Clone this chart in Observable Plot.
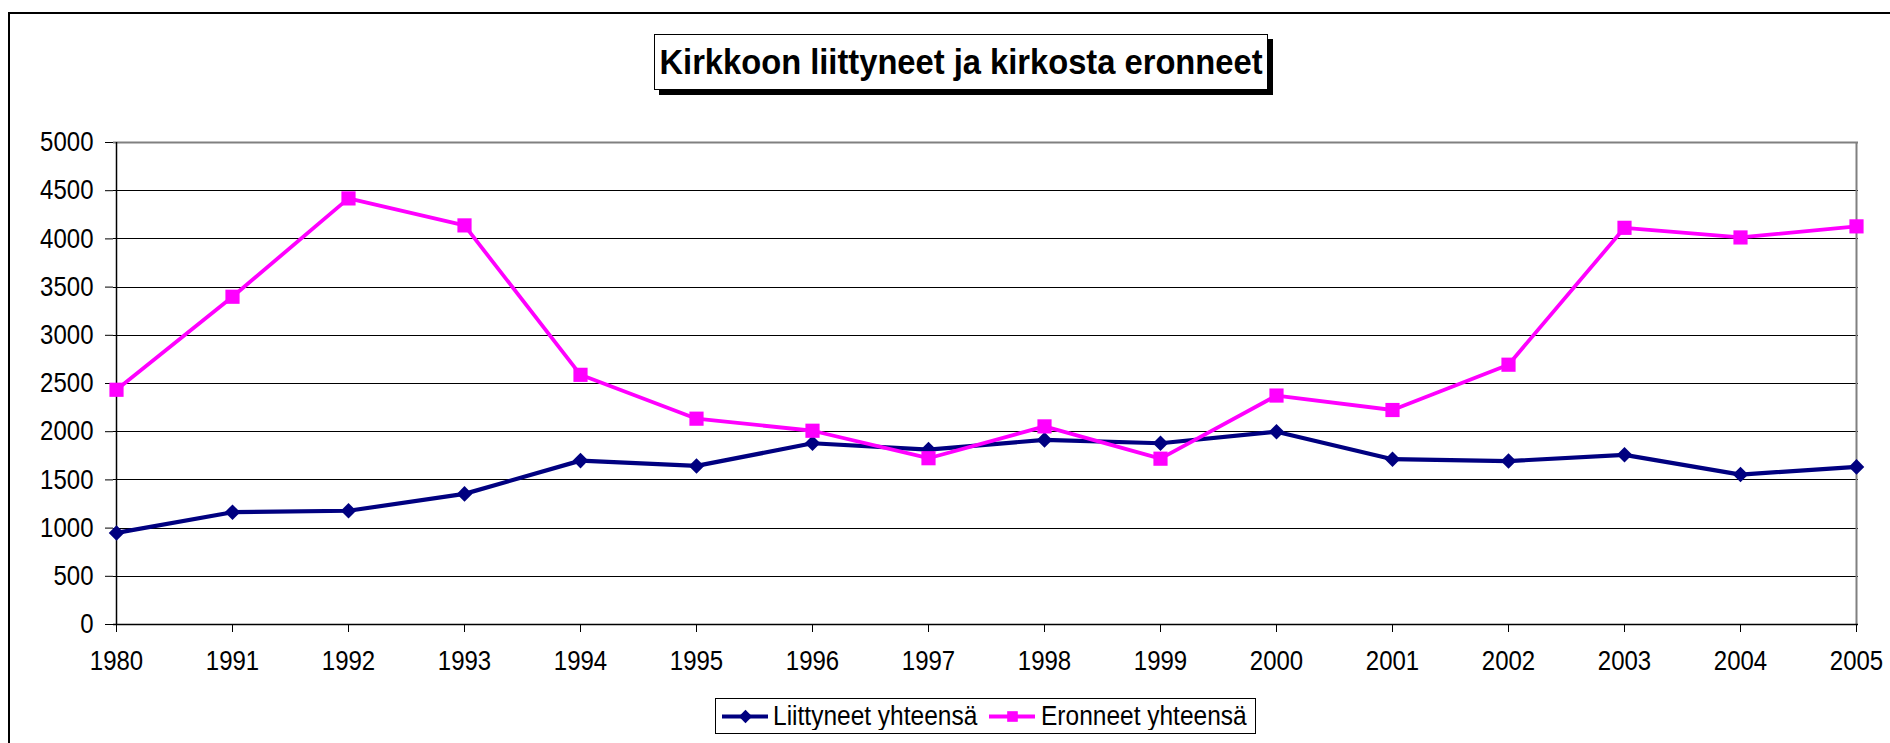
<!DOCTYPE html>
<html>
<head>
<meta charset="utf-8">
<script src="https://cdn.jsdelivr.net/npm/d3@7"></script>
<script src="https://cdn.jsdelivr.net/npm/@observablehq/plot@0.6"></script>
<style>
html, body { margin: 0; padding: 0; width: 1890px; height: 743px; overflow: hidden; background: #fff; font-family: "Liberation Sans", Arial, sans-serif; }
#frame { position: absolute; left: 8px; top: 12px; width: 2000px; height: 1000px; border-left: 2px solid #000; border-top: 2px solid #000; box-sizing: border-box; }
#title { position: absolute; left: 654px; top: 34px; width: 614px; height: 56px; box-sizing: border-box; border: 1px solid #000; box-shadow: 5px 5px 0 #000; background: #fff; font-weight: bold; font-size: 32.7px; display: flex; align-items: center; justify-content: center; color: #000; }
#title span { display: inline-block; transform: scaleY(1.08); }
#chart { position: absolute; left: 0; top: 100px; }
#legend { position: absolute; left: 715px; top: 698px; width: 541px; height: 36px; box-sizing: border-box; border: 1px solid #000; background: #fff; font-size: 24.5px; color: #000; white-space: nowrap; }
#legend .sw { position: absolute; top: 7px; }
#legend .lbl { position: absolute; top: 2px; line-height: 30px; display: inline-block; transform: scaleY(1.1); transform-origin: 50% 60%; }
</style>
</head>
<body>
<div id="frame"></div>
<div id="title"><span></span></div>
<div id="chart"></div>
<div id="legend"></div>
<script>
const titleText = "Kirkkoon liittyneet ja kirkosta eronneet";
const years = ["1980","1991","1992","1993","1994","1995","1996","1997","1998","1999","2000","2001","2002","2003","2004","2005"];
const liittyneet = [950,1165,1180,1355,1700,1645,1880,1815,1915,1880,2000,1715,1695,1760,1555,1635];
const eronneet = [2435,3400,4420,4140,2590,2135,2010,1725,2055,1720,2375,2225,2695,4115,4015,4130];
const yTicks = [0,500,1000,1500,2000,2500,3000,3500,4000,4500,5000];
const seriesNames = ["Liittyneet yhteensä","Eronneet yhteensä"];
const seriesColors = ["#000080","#FF00FF"];
const seriesSymbols = ["diamond2","square"];

document.querySelector("#title span").textContent = titleText;

const rowsL = years.map((y, i) => ({year: y, value: liittyneet[i]}));
const rowsE = years.map((y, i) => ({year: y, value: eronneet[i]}));

const chart = Plot.plot({
  width: 1890,
  height: 580,
  marginLeft: 113,
  marginRight: 32,
  marginTop: 42,
  marginBottom: 56,
  style: {fontFamily: "'Liberation Sans', Arial, sans-serif", fontSize: "24px", color: "#000", background: "transparent", overflow: "visible"},
  x: {type: "point", domain: years, padding: 0, label: null},
  y: {domain: [0, 5000], label: null},
  marks: [
    Plot.ruleY(yTicks.filter(v => v > 0 && v < 5000), {stroke: "#000", strokeWidth: 1, shapeRendering: "crispEdges"}),
    Plot.ruleY([5000], {stroke: "#808080", strokeWidth: 2}),
    Plot.ruleX([years[years.length - 1]], {stroke: "#808080", strokeWidth: 2}),
    Plot.ruleX([years[0]], {stroke: "#000", strokeWidth: 1.5}),
    Plot.ruleY([0], {stroke: "#000", strokeWidth: 1.5}),
    Plot.axisY({ticks: yTicks, tickSize: 8, tickPadding: 12, fontSize: 24, label: null, tickFormat: d => String(d)}),
    Plot.axisX({tickSize: 8, tickPadding: 18, fontSize: 24, label: null}),
    Plot.line(rowsL, {x: "year", y: "value", stroke: seriesColors[0], strokeWidth: 4.2}),
    Plot.dot(rowsL, {x: "year", y: "value", symbol: seriesSymbols[0], r: 7, fill: seriesColors[0], stroke: "none"}),
    Plot.line(rowsE, {x: "year", y: "value", stroke: seriesColors[1], strokeWidth: 3.8}),
    Plot.dot(rowsE, {x: "year", y: "value", symbol: seriesSymbols[1], r: 8, fill: seriesColors[1], stroke: "none"})
  ]
});
// stretch axis labels vertically a little, like the reference rendering
chart.querySelectorAll('g[aria-label$="tick label"] text').forEach(t => {
  const tr = t.getAttribute("transform");
  if (tr) {
    t.setAttribute("transform", tr + " scale(1,1.12)");
  } else {
    const x = t.getAttribute("x") || 0, y = t.getAttribute("y") || 0;
    t.removeAttribute("x"); t.removeAttribute("y");
    t.setAttribute("transform", `translate(${x},${y}) scale(1,1.12)`);
  }
});
document.getElementById("chart").appendChild(chart);

// legend
const legend = document.getElementById("legend");
const swatchLeft = [6, 273];
const labelLeft = [57, 325];
seriesNames.forEach((name, i) => {
  const sw = Plot.plot({
    width: 46, height: 20, margin: 0,
    x: {domain: [0, 46], axis: null}, y: {domain: [0, 20], axis: null},
    style: {background: "transparent", overflow: "visible"},
    marks: [
      Plot.ruleY([10], {x1: 0, x2: 46, stroke: seriesColors[i], strokeWidth: 4}),
      Plot.dot([[23, 10]], {symbol: seriesSymbols[i], r: 6, fill: seriesColors[i], stroke: "none"})
    ]
  });
  sw.classList.add("sw");
  sw.style.left = swatchLeft[i] + "px";
  legend.appendChild(sw);
  const t = document.createElement("span");
  t.className = "lbl";
  t.style.left = labelLeft[i] + "px";
  t.textContent = name;
  legend.appendChild(t);
});
</script>
</body>
</html>
